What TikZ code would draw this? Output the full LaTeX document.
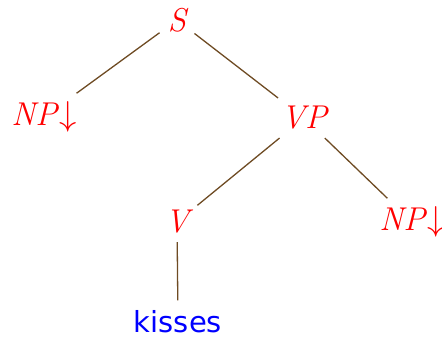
\documentclass[tikz,border=0pt]{standalone}
\usepackage{fontspec}
\newfontfamily\lexfont{DejaVu Sans}
\definecolor{edgebrown}{RGB}{110,75,35}
\begin{document}
\begin{tikzpicture}[x=0.5pt,y=-0.5pt,
  cat/.style={text=red,font=\fontsize{16.5}{19}\selectfont\itshape,inner sep=4pt},
  lex/.style={text=blue,font=\lexfont\fontsize{14.5}{17}\selectfont,inner sep=5pt},
  edge/.style={draw=edgebrown,line width=0.65pt}]
\useasboundingbox (0,0) rectangle (442,339);
\node[cat] (S) at (177,20) {S};
\node[cat] (NPa) at (44,117) {NP\kern1pt$\downarrow$};
\node[cat] (VP) at (304,118) {VP};
\node[cat] (V) at (177,222) {V};
\node[cat] (NPb) at (412,222) {NP\kern1pt$\downarrow$};
\node[lex] (kisses) at (178,322) {kisses};
\draw[edge] (S) -- (NPa);
\draw[edge] (S) -- (VP);
\draw[edge] (VP) -- (V);
\draw[edge] (VP) -- (NPb);
\draw[edge] (V) -- (kisses);
\end{tikzpicture}
\end{document}
